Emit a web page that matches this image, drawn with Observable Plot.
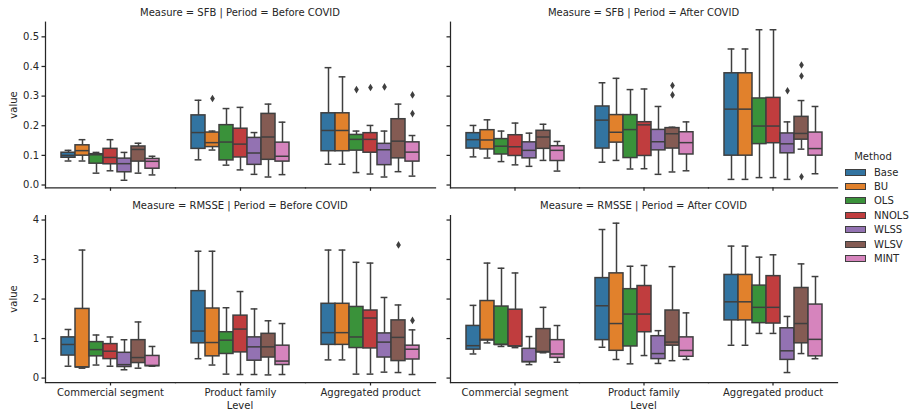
<!DOCTYPE html>
<html><head><meta charset="utf-8">
<script src="https://cdn.jsdelivr.net/npm/d3@7"></script>
<script src="https://cdn.jsdelivr.net/npm/@observablehq/plot@0.6"></script>
<style>
body{margin:0;background:#fff;font-family:"DejaVu Sans",sans-serif;color:#262626}
#fig{position:relative;width:909px;height:414px;overflow:hidden;background:#fff}
.panel{position:absolute}
.t{position:absolute;font-size:10px;white-space:nowrap;transform:translate(-50%,-50%);line-height:1}
.yl{position:absolute;font-size:10px;white-space:nowrap;transform:translate(-50%,-50%) rotate(-90deg);line-height:1}
.leg{position:absolute;left:845px;top:151px;font-size:10px}
.leg .row{display:flex;align-items:center;height:14.4px}
.leg .sw{width:19px;height:5px;border:1.2px solid #3f3f3f;margin-right:8px}
.leg .ttl{text-align:center;width:56px;margin-left:0px;height:14px}
</style></head><body><div id="fig"></div>
<script>
const methods = ["Base", "BU", "OLS", "NNOLS", "WLSS", "WLSV", "MINT"];
const colors = ["#3274a1", "#e1812c", "#3a923a", "#c03d3e", "#9372b2", "#845b53", "#d684bd"];
const levels = ["Commercial segment", "Product family", "Aggregated product"];

// each row: [lower whisker, q1, median, q3, upper whisker], one per method
const sfbBeforeCS = [[0.081,0.092,0.100,0.109,0.117],[0.081,0.099,0.116,0.134,0.153],[0.040,0.072,0.102,0.104,0.110],[0.048,0.070,0.093,0.122,0.153],[0.016,0.043,0.072,0.089,0.110],[0.040,0.079,0.120,0.130,0.141],[0.034,0.055,0.080,0.088,0.097]];
const sfbBeforePF = [[0.085,0.122,0.177,0.235,0.286],[0.118,0.128,0.143,0.177,0.182],[0.067,0.083,0.145,0.202,0.258],[0.051,0.093,0.138,0.190,0.262],[0.036,0.068,0.108,0.159,0.177],[0.027,0.085,0.162,0.240,0.273],[0.035,0.079,0.097,0.143,0.212]];
const sfbBeforeAP = [[0.070,0.114,0.184,0.242,0.396],[0.070,0.114,0.184,0.242,0.365],[0.042,0.116,0.154,0.169,0.182],[0.037,0.109,0.154,0.175,0.201],[0.027,0.067,0.119,0.139,0.182],[0.045,0.090,0.148,0.222,0.273],[0.030,0.079,0.111,0.144,0.167]];
const sfbBeforeOut = [["BU","Product family",0.292],["OLS","Aggregated product",0.322],["NNOLS","Aggregated product",0.329],["WLSS","Aggregated product",0.331],["MINT","Aggregated product",0.304],["MINT","Aggregated product",0.241]];

const sfbAfterCS = [[0.095,0.123,0.153,0.175,0.201],[0.091,0.120,0.152,0.185,0.220],[0.079,0.103,0.131,0.155,0.182],[0.068,0.098,0.129,0.168,0.209],[0.063,0.090,0.117,0.144,0.175],[0.083,0.122,0.162,0.183,0.205],[0.047,0.081,0.117,0.131,0.147]];
const sfbAfterPF = [[0.077,0.123,0.219,0.265,0.345],[0.083,0.143,0.178,0.236,0.360],[0.054,0.091,0.187,0.236,0.322],[0.055,0.098,0.203,0.212,0.324],[0.036,0.117,0.146,0.186,0.265],[0.044,0.123,0.173,0.192,0.195],[0.048,0.103,0.143,0.178,0.213]];
const sfbAfterAP = [[0.019,0.099,0.256,0.377,0.459],[0.019,0.099,0.256,0.377,0.459],[0.025,0.138,0.199,0.292,0.524],[0.025,0.141,0.199,0.294,0.524],[0.019,0.107,0.139,0.174,0.213],[0.121,0.153,0.174,0.230,0.285],[0.038,0.099,0.123,0.177,0.265]];
const sfbAfterOut = [["WLSV","Product family",0.336],["WLSV","Product family",0.304],["WLSS","Aggregated product",0.318],["WLSV","Aggregated product",0.405],["WLSV","Aggregated product",0.368],["WLSV","Aggregated product",0.028]];

const rmsseBeforeCS = [[0.30,0.57,0.85,1.03,1.23],[0.25,0.27,0.28,1.75,3.24],[0.33,0.55,0.72,0.91,1.09],[0.30,0.48,0.68,0.86,1.04],[0.21,0.28,0.34,0.64,0.97],[0.25,0.38,0.52,0.96,1.42],[0.30,0.30,0.32,0.56,0.80]];
const rmsseBeforePF = [[0.49,0.88,1.19,2.20,3.21],[0.33,0.55,0.90,1.76,3.21],[0.10,0.61,0.96,1.16,1.78],[0.09,0.65,1.24,1.58,2.19],[0.09,0.44,0.79,1.03,1.75],[0.08,0.52,0.79,1.12,1.45],[0.09,0.33,0.43,0.82,1.38]];
const rmsseBeforeAP = [[0.46,0.84,1.15,1.88,3.24],[0.46,0.84,1.15,1.88,3.24],[0.10,0.76,1.04,1.80,2.93],[0.10,0.75,1.52,1.71,2.91],[0.15,0.52,0.91,1.13,2.04],[0.14,0.43,1.03,1.46,1.85],[0.09,0.47,0.73,0.82,1.22]];
const rmsseBeforeOut = [["WLSV","Aggregated product",3.37],["MINT","Aggregated product",1.46]];

const rmsseAfterCS = [[0.61,0.72,0.82,1.32,1.84],[0.89,0.95,0.98,1.95,2.91],[0.80,0.84,0.85,1.81,2.78],[0.77,0.80,0.81,1.73,2.66],[0.34,0.40,0.42,0.74,1.05],[0.64,0.66,0.66,1.24,1.79],[0.40,0.51,0.61,0.96,1.33]];
const rmsseAfterPF = [[0.78,0.96,1.83,2.53,3.76],[0.47,0.69,1.38,2.65,3.92],[0.36,0.80,1.62,2.25,2.83],[0.57,1.16,1.62,2.33,2.85],[0.37,0.48,0.62,1.06,1.20],[0.44,0.82,0.91,1.71,2.82],[0.47,0.54,0.70,1.03,1.65]];
const rmsseAfterAP = [[0.83,1.46,1.93,2.61,3.34],[0.83,1.46,1.93,2.61,3.34],[1.13,1.39,1.79,2.34,3.06],[1.13,1.38,1.79,2.58,3.12],[0.14,0.46,0.69,1.26,1.56],[0.62,0.88,1.38,2.28,2.89],[0.49,0.55,0.98,1.86,2.57]];
const rmsseAfterOut = [];

const sfbTicks = [0, 0.1, 0.2, 0.3, 0.4, 0.5];
const rmsseTicks = [0, 1, 2, 3, 4];

const gray = "#3f3f3f";
const ink = "#262626";

function boxRows(cs, pf, ap) {
  const rows = [];
  [cs, pf, ap].forEach((arr, li) => arr.forEach((v, mi) => rows.push({
    level: levels[li], method: methods[mi], lo: v[0], q1: v[1], med: v[2], q3: v[3], hi: v[4]
  })));
  return rows;
}
function flierRows(arr) { return arr.map(([method, level, value]) => ({method, level, value})); }

const thinDiamond = {
  draw(context, size) {
    const r = Math.sqrt(size / Math.PI);
    const w = r * 0.62;
    context.moveTo(0, -r); context.lineTo(w, 0); context.lineTo(0, r); context.lineTo(-w, 0); context.closePath();
  }
};

function paddedDomain(rowsA, rowsB, fA, fB) {
  const vals = [];
  for (const r of rowsA.concat(rowsB)) vals.push(r.lo, r.hi);
  for (const f of fA.concat(fB)) vals.push(f.value);
  const [a, b] = d3.extent(vals);
  const p = (b - a) * 0.05;
  return [a - p, b + p];
}

function panel({boxes, fliers, domain, ticks, fmt, showY, showX, width, height, ml, mr, mt, mb}) {
  return Plot.plot({
    width, height, marginLeft: ml, marginRight: mr, marginTop: mt, marginBottom: mb,
    style: {fontFamily: "DejaVu Sans, sans-serif", fontSize: "10px", color: ink, background: "transparent", overflow: "visible"},
    fx: {domain: levels, padding: 0, label: null},
    x: {domain: methods, paddingInner: 0.02, paddingOuter: 0.885, axis: null},
    y: {domain, label: null},
    color: {domain: methods, range: colors},
    marks: [
      Plot.axisY({ticks, tickFormat: showY ? fmt : () => "", tickSize: 3.5, tickPadding: 3, stroke: ink, strokeWidth: 1.25, fill: ink, label: null}),
      Plot.axisFx({anchor: "bottom", tickSize: 3.5, tickPadding: 3, stroke: ink, strokeWidth: 1.25, fill: ink, tickFormat: showX ? (d) => d : () => "", label: null}),
      Plot.ruleX(boxes, {fx: "level", x: "method", y1: "q3", y2: "hi", stroke: gray, strokeWidth: 1.5}),
      Plot.ruleX(boxes, {fx: "level", x: "method", y1: "lo", y2: "q1", stroke: gray, strokeWidth: 1.5}),
      Plot.tickY(boxes, {fx: "level", x: "method", y: "hi", stroke: gray, strokeWidth: 1.5, insetLeft: 3.6, insetRight: 3.6}),
      Plot.tickY(boxes, {fx: "level", x: "method", y: "lo", stroke: gray, strokeWidth: 1.5, insetLeft: 3.6, insetRight: 3.6}),
      Plot.barY(boxes, {fx: "level", x: "method", y1: "q1", y2: "q3", fill: "method", stroke: gray, strokeWidth: 1.5}),
      Plot.tickY(boxes, {fx: "level", x: "method", y: "med", stroke: gray, strokeWidth: 1.5}),
      Plot.dot(fliers, {fx: "level", x: "method", y: "value", symbol: thinDiamond, r: 3.8, fill: gray, stroke: "none"}),
      Plot.frame({anchor: "bottom", stroke: ink, strokeWidth: 1.25}),
      Plot.frame({anchor: "left", stroke: ink, strokeWidth: 1.25, facetAnchor: "left"})
    ]
  });
}

const fig = document.getElementById("fig");
function place(el, left, top) { el.classList.add("panel"); el.style.left = left + "px"; el.style.top = top + "px"; fig.appendChild(el); }
function label(text, x, y, cls = "t") { const d = document.createElement("div"); d.className = cls; d.textContent = text; d.style.left = x + "px"; d.style.top = y + "px"; fig.appendChild(d); }

const sbB = boxRows(sfbBeforeCS, sfbBeforePF, sfbBeforeAP), sbA = boxRows(sfbAfterCS, sfbAfterPF, sfbAfterAP);
const sfB = flierRows(sfbBeforeOut), sfA = flierRows(sfbAfterOut);
const rbB = boxRows(rmsseBeforeCS, rmsseBeforePF, rmsseBeforeAP), rbA = boxRows(rmsseAfterCS, rmsseAfterPF, rmsseAfterAP);
const rfB = flierRows(rmsseBeforeOut), rfA = flierRows(rmsseAfterOut);
const topDom = paddedDomain(sbB, sbA, sfB, sfA);
const botDom = paddedDomain(rbB, rbA, rfB, rfA);

const topGeom = {height: 200, mt: 21.7, mb: 12.7};
const botGeom = {height: 214, mt: 15.1, mb: 32};
place(panel({boxes: sbB, fliers: sfB, domain: topDom, ticks: sfbTicks, fmt: d3.format(".1f"), showY: true, showX: false, width: 442, ml: 45, mr: 7, ...topGeom}), 0, 0);
place(panel({boxes: sbA, fliers: sfA, domain: topDom, ticks: sfbTicks, fmt: d3.format(".1f"), showY: false, showX: false, width: 400, ml: 7, mr: 4, ...topGeom}), 442, 0);
place(panel({boxes: rbB, fliers: rfB, domain: botDom, ticks: rmsseTicks, fmt: d3.format("d"), showY: true, showX: true, width: 442, ml: 45, mr: 7, ...botGeom}), 0, 200);
place(panel({boxes: rbA, fliers: rfA, domain: botDom, ticks: rmsseTicks, fmt: d3.format("d"), showY: false, showX: true, width: 400, ml: 7, mr: 4, ...botGeom}), 442, 200);

label("Measure = SFB | Period = Before COVID", 240, 12.7);
label("Measure = SFB | Period = After COVID", 643.5, 12.7);
label("Measure = RMSSE | Period = Before COVID", 240, 206);
label("Measure = RMSSE | Period = After COVID", 643.5, 206);
label("Level", 240, 406);
label("Level", 643.5, 406);
label("value", 14, 104.5, "yl");
label("value", 14, 298.5, "yl");

const leg = document.createElement("div");
leg.className = "leg";
leg.innerHTML = `<div class="ttl">Method</div>` + methods.map((m, i) =>
  `<div class="row"><div class="sw" style="background:${colors[i]}"></div><span>${m}</span></div>`).join("");
fig.appendChild(leg);
</script></body></html>
